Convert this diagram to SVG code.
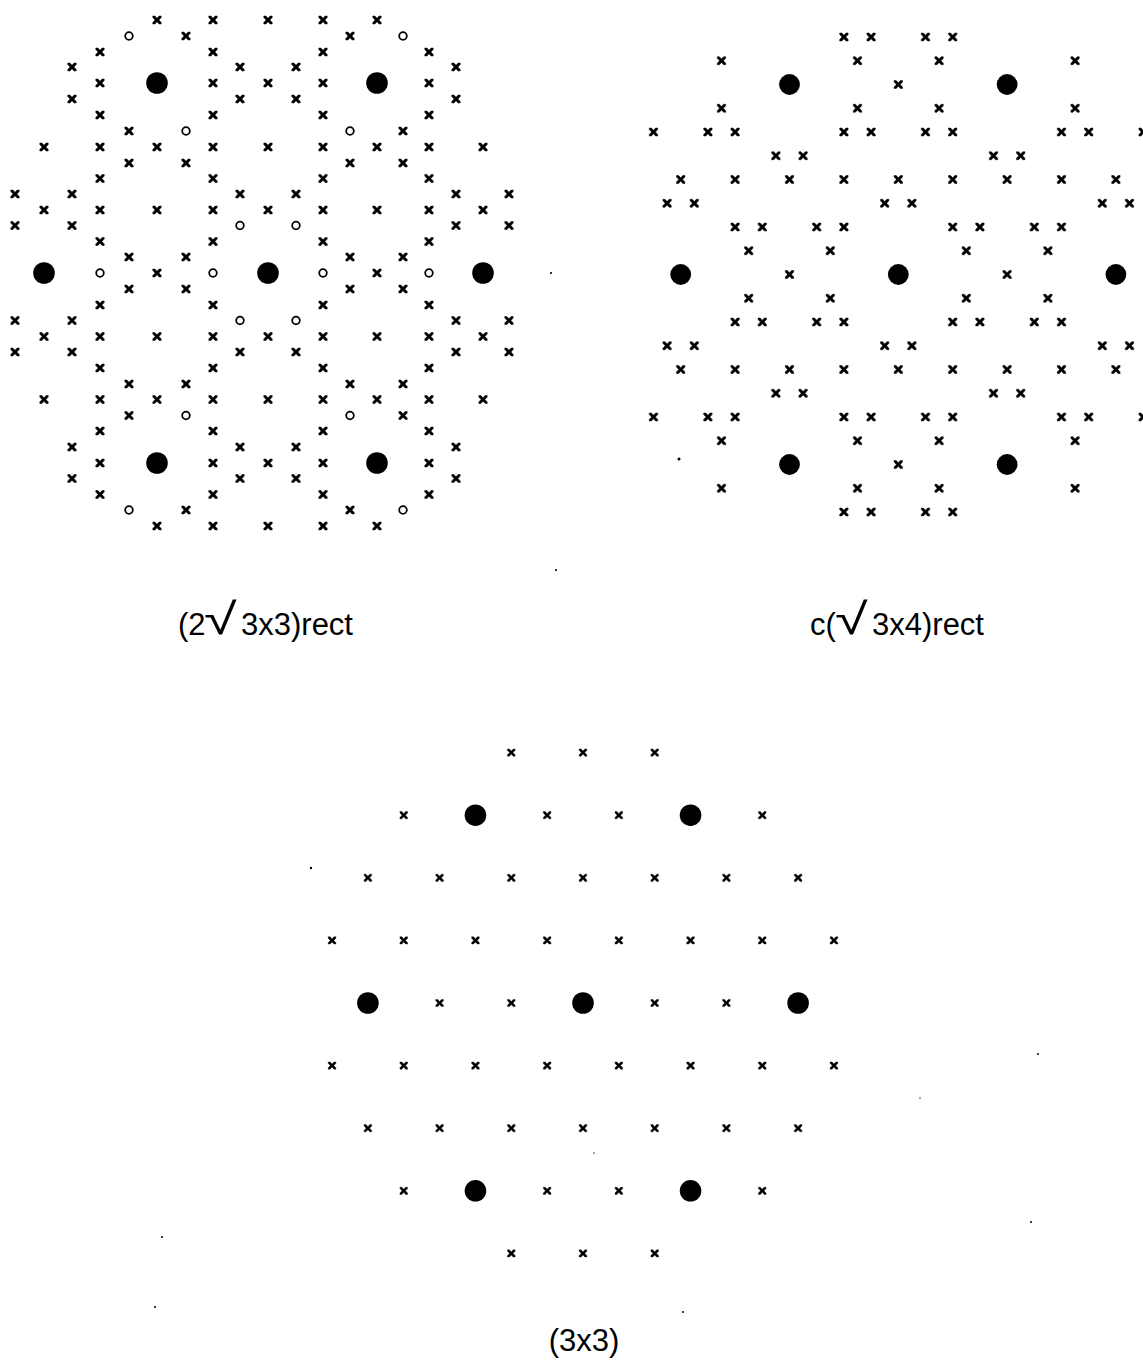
<svg xmlns="http://www.w3.org/2000/svg" xmlns:xlink="http://www.w3.org/1999/xlink" width="1143" height="1365" viewBox="0 0 1143 1365">
<style>
.b{fill:#000}
.o{fill:none;stroke:#000;stroke-width:1.8}
.s{fill:#000}
.lbl{font-family:"Liberation Sans","DejaVu Sans",Arial,sans-serif;font-size:31px;fill:#000}
.rad{font-family:"DejaVu Sans","Liberation Sans",sans-serif;font-size:44px;font-weight:200;fill:#000}
</style>
<defs>
<path id="x" d="M-4.2,-4 H-2.1 L0,-1.7 L2.1,-4 H4.2 V-2.4 L1.9,0 L4.2,2.4 V4 H2.1 L0,1.7 L-2.1,4 H-4.2 V2.4 L-1.9,0 L-4.2,-2.4 Z" fill="#000" stroke="#000" stroke-width="0.5"/>
<path id="xs" d="M-3.8,-3.6 H-1.9 L0,-1.5 L1.9,-3.6 H3.8 V-2.2 L1.7,0 L3.8,2.2 V3.6 H1.9 L0,1.5 L-1.9,3.6 H-3.8 V2.2 L-1.7,0 L-3.8,-2.2 Z" fill="#000" stroke="#000" stroke-width="0.4"/>
</defs>
<rect width="1143" height="1365" fill="#fff"/>

<g id="pattern-2r3x3rect">
<g id="p1-big">
<circle class="b" cx="157" cy="83" r="10.8"/><circle class="b" cx="377" cy="83" r="10.8"/>
<circle class="b" cx="44" cy="273" r="10.8"/><circle class="b" cx="268" cy="273" r="10.8"/><circle class="b" cx="483" cy="273" r="10.8"/>
<circle class="b" cx="157" cy="463" r="10.8"/><circle class="b" cx="377" cy="463" r="10.8"/>
</g>
<g id="p1-open">
<circle class="o" cx="129" cy="36" r="3.8"/><circle class="o" cx="403" cy="36" r="3.8"/>
<circle class="o" cx="186" cy="131" r="3.8"/><circle class="o" cx="350" cy="131" r="3.8"/>
<circle class="o" cx="240" cy="225.5" r="3.8"/><circle class="o" cx="296" cy="225.5" r="3.8"/>
<circle class="o" cx="100" cy="273" r="3.8"/><circle class="o" cx="213" cy="273" r="3.8"/><circle class="o" cx="323" cy="273" r="3.8"/><circle class="o" cx="429" cy="273" r="3.8"/>
<circle class="o" cx="240" cy="320.5" r="3.8"/><circle class="o" cx="296" cy="320.5" r="3.8"/>
<circle class="o" cx="186" cy="415.5" r="3.8"/><circle class="o" cx="350" cy="415.5" r="3.8"/>
<circle class="o" cx="129" cy="510" r="3.8"/><circle class="o" cx="403" cy="510" r="3.8"/>
</g>
<g id="p1-cross">
<use href="#x" x="157" y="20"/><use href="#x" x="213" y="20"/><use href="#x" x="268" y="20"/><use href="#x" x="323" y="20"/><use href="#x" x="377" y="20"/>
<use href="#x" x="186" y="36"/><use href="#x" x="350" y="36"/>
<use href="#x" x="100" y="52"/><use href="#x" x="213" y="52"/><use href="#x" x="323" y="52"/><use href="#x" x="429" y="52"/>
<use href="#x" x="72" y="67"/><use href="#x" x="240" y="67"/><use href="#x" x="296" y="67"/><use href="#x" x="456" y="67"/>
<use href="#x" x="100" y="83"/><use href="#x" x="213" y="83"/><use href="#x" x="268" y="83"/><use href="#x" x="323" y="83"/><use href="#x" x="429" y="83"/>
<use href="#x" x="72" y="99"/><use href="#x" x="240" y="99"/><use href="#x" x="296" y="99"/><use href="#x" x="456" y="99"/>
<use href="#x" x="100" y="115"/><use href="#x" x="213" y="115"/><use href="#x" x="323" y="115"/><use href="#x" x="429" y="115"/>
<use href="#x" x="129" y="131"/><use href="#x" x="403" y="131"/>
<use href="#x" x="44" y="147"/><use href="#x" x="100" y="147"/><use href="#x" x="157" y="147"/><use href="#x" x="213" y="147"/><use href="#x" x="268" y="147"/><use href="#x" x="323" y="147"/><use href="#x" x="377" y="147"/><use href="#x" x="429" y="147"/><use href="#x" x="483" y="147"/>
<use href="#x" x="129" y="163"/><use href="#x" x="186" y="163"/><use href="#x" x="350" y="163"/><use href="#x" x="403" y="163"/>
<use href="#x" x="100" y="178.5"/><use href="#x" x="213" y="178.5"/><use href="#x" x="323" y="178.5"/><use href="#x" x="429" y="178.5"/>
<use href="#x" x="15" y="194"/><use href="#x" x="72" y="194"/><use href="#x" x="240" y="194"/><use href="#x" x="296" y="194"/><use href="#x" x="456" y="194"/><use href="#x" x="509" y="194"/>
<use href="#x" x="44" y="210"/><use href="#x" x="100" y="210"/><use href="#x" x="157" y="210"/><use href="#x" x="213" y="210"/><use href="#x" x="268" y="210"/><use href="#x" x="323" y="210"/><use href="#x" x="377" y="210"/><use href="#x" x="429" y="210"/><use href="#x" x="483" y="210"/>
<use href="#x" x="15" y="225.5"/><use href="#x" x="72" y="225.5"/><use href="#x" x="456" y="225.5"/><use href="#x" x="509" y="225.5"/>
<use href="#x" x="100" y="241.5"/><use href="#x" x="213" y="241.5"/><use href="#x" x="323" y="241.5"/><use href="#x" x="429" y="241.5"/>
<use href="#x" x="129" y="257"/><use href="#x" x="186" y="257"/><use href="#x" x="350" y="257"/><use href="#x" x="403" y="257"/>
<use href="#x" x="157" y="273"/><use href="#x" x="377" y="273"/>
<use href="#x" x="129" y="289"/><use href="#x" x="186" y="289"/><use href="#x" x="350" y="289"/><use href="#x" x="403" y="289"/>
<use href="#x" x="100" y="305"/><use href="#x" x="213" y="305"/><use href="#x" x="323" y="305"/><use href="#x" x="429" y="305"/>
<use href="#x" x="15" y="320.5"/><use href="#x" x="72" y="320.5"/><use href="#x" x="456" y="320.5"/><use href="#x" x="509" y="320.5"/>
<use href="#x" x="44" y="336.5"/><use href="#x" x="100" y="336.5"/><use href="#x" x="157" y="336.5"/><use href="#x" x="213" y="336.5"/><use href="#x" x="268" y="336.5"/><use href="#x" x="323" y="336.5"/><use href="#x" x="377" y="336.5"/><use href="#x" x="429" y="336.5"/><use href="#x" x="483" y="336.5"/>
<use href="#x" x="15" y="352"/><use href="#x" x="72" y="352"/><use href="#x" x="240" y="352"/><use href="#x" x="296" y="352"/><use href="#x" x="456" y="352"/><use href="#x" x="509" y="352"/>
<use href="#x" x="100" y="368"/><use href="#x" x="213" y="368"/><use href="#x" x="323" y="368"/><use href="#x" x="429" y="368"/>
<use href="#x" x="129" y="384"/><use href="#x" x="186" y="384"/><use href="#x" x="350" y="384"/><use href="#x" x="403" y="384"/>
<use href="#x" x="44" y="399.5"/><use href="#x" x="100" y="399.5"/><use href="#x" x="157" y="399.5"/><use href="#x" x="213" y="399.5"/><use href="#x" x="268" y="399.5"/><use href="#x" x="323" y="399.5"/><use href="#x" x="377" y="399.5"/><use href="#x" x="429" y="399.5"/><use href="#x" x="483" y="399.5"/>
<use href="#x" x="129" y="415.5"/><use href="#x" x="403" y="415.5"/>
<use href="#x" x="100" y="431"/><use href="#x" x="213" y="431"/><use href="#x" x="323" y="431"/><use href="#x" x="429" y="431"/>
<use href="#x" x="72" y="447"/><use href="#x" x="240" y="447"/><use href="#x" x="296" y="447"/><use href="#x" x="456" y="447"/>
<use href="#x" x="100" y="463"/><use href="#x" x="213" y="463"/><use href="#x" x="268" y="463"/><use href="#x" x="323" y="463"/><use href="#x" x="429" y="463"/>
<use href="#x" x="72" y="478.5"/><use href="#x" x="240" y="478.5"/><use href="#x" x="296" y="478.5"/><use href="#x" x="456" y="478.5"/>
<use href="#x" x="100" y="494.5"/><use href="#x" x="213" y="494.5"/><use href="#x" x="323" y="494.5"/><use href="#x" x="429" y="494.5"/>
<use href="#x" x="186" y="510"/><use href="#x" x="350" y="510"/>
<use href="#x" x="157" y="526"/><use href="#x" x="213" y="526"/><use href="#x" x="268" y="526"/><use href="#x" x="323" y="526"/><use href="#x" x="377" y="526"/>
</g>
<text class="lbl" x="178" y="635">(2</text>
<text class="rad" transform="translate(204,634) scale(1.35,1)">√</text>
<text class="lbl" x="241" y="635">3x3)rect</text>
</g>

<g id="pattern-cr3x4rect">
<g id="p2-big">
<circle class="b" cx="789.5" cy="84.5" r="10.4"/><circle class="b" cx="1007.1" cy="84.5" r="10.4"/>
<circle class="b" cx="680.7" cy="274.5" r="10.4"/><circle class="b" cx="898.3" cy="274.5" r="10.4"/><circle class="b" cx="1115.9" cy="274.5" r="10.4"/>
<circle class="b" cx="789.5" cy="464.5" r="10.4"/><circle class="b" cx="1007.1" cy="464.5" r="10.4"/>
</g>
<g id="p2-cross">
<use href="#x" x="843.9" y="37"/><use href="#x" x="871.1" y="37"/><use href="#x" x="925.5" y="37"/><use href="#x" x="952.7" y="37"/>
<use href="#x" x="721.5" y="60.75"/><use href="#x" x="857.5" y="60.75"/><use href="#x" x="939.1" y="60.75"/><use href="#x" x="1075.1" y="60.75"/>
<use href="#x" x="898.3" y="84.5"/>
<use href="#x" x="721.5" y="108.25"/><use href="#x" x="857.5" y="108.25"/><use href="#x" x="939.1" y="108.25"/><use href="#x" x="1075.1" y="108.25"/>
<use href="#x" x="653.5" y="132"/><use href="#x" x="707.9" y="132"/><use href="#x" x="735.1" y="132"/><use href="#x" x="843.9" y="132"/><use href="#x" x="871.1" y="132"/><use href="#x" x="925.5" y="132"/><use href="#x" x="952.7" y="132"/><use href="#x" x="1061.5" y="132"/><use href="#x" x="1088.7" y="132"/><use href="#x" x="1143.1" y="132"/>
<use href="#x" x="775.9" y="155.75"/><use href="#x" x="803.1" y="155.75"/><use href="#x" x="993.5" y="155.75"/><use href="#x" x="1020.7" y="155.75"/>
<use href="#x" x="680.7" y="179.5"/><use href="#x" x="735.1" y="179.5"/><use href="#x" x="789.5" y="179.5"/><use href="#x" x="843.9" y="179.5"/><use href="#x" x="898.3" y="179.5"/><use href="#x" x="952.7" y="179.5"/><use href="#x" x="1007.1" y="179.5"/><use href="#x" x="1061.5" y="179.5"/><use href="#x" x="1115.9" y="179.5"/>
<use href="#x" x="667.1" y="203.25"/><use href="#x" x="694.3" y="203.25"/><use href="#x" x="884.7" y="203.25"/><use href="#x" x="911.9" y="203.25"/><use href="#x" x="1102.3" y="203.25"/><use href="#x" x="1129.5" y="203.25"/>
<use href="#x" x="735.1" y="227"/><use href="#x" x="762.3" y="227"/><use href="#x" x="816.7" y="227"/><use href="#x" x="843.9" y="227"/><use href="#x" x="952.7" y="227"/><use href="#x" x="979.9" y="227"/><use href="#x" x="1034.3" y="227"/><use href="#x" x="1061.5" y="227"/>
<use href="#x" x="748.7" y="250.75"/><use href="#x" x="830.3" y="250.75"/><use href="#x" x="966.3" y="250.75"/><use href="#x" x="1047.9" y="250.75"/>
<use href="#x" x="789.5" y="274.5"/><use href="#x" x="1007.1" y="274.5"/>
<use href="#x" x="748.7" y="298.25"/><use href="#x" x="830.3" y="298.25"/><use href="#x" x="966.3" y="298.25"/><use href="#x" x="1047.9" y="298.25"/>
<use href="#x" x="735.1" y="322"/><use href="#x" x="762.3" y="322"/><use href="#x" x="816.7" y="322"/><use href="#x" x="843.9" y="322"/><use href="#x" x="952.7" y="322"/><use href="#x" x="979.9" y="322"/><use href="#x" x="1034.3" y="322"/><use href="#x" x="1061.5" y="322"/>
<use href="#x" x="667.1" y="345.75"/><use href="#x" x="694.3" y="345.75"/><use href="#x" x="884.7" y="345.75"/><use href="#x" x="911.9" y="345.75"/><use href="#x" x="1102.3" y="345.75"/><use href="#x" x="1129.5" y="345.75"/>
<use href="#x" x="680.7" y="369.5"/><use href="#x" x="735.1" y="369.5"/><use href="#x" x="789.5" y="369.5"/><use href="#x" x="843.9" y="369.5"/><use href="#x" x="898.3" y="369.5"/><use href="#x" x="952.7" y="369.5"/><use href="#x" x="1007.1" y="369.5"/><use href="#x" x="1061.5" y="369.5"/><use href="#x" x="1115.9" y="369.5"/>
<use href="#x" x="775.9" y="393.25"/><use href="#x" x="803.1" y="393.25"/><use href="#x" x="993.5" y="393.25"/><use href="#x" x="1020.7" y="393.25"/>
<use href="#x" x="653.5" y="417"/><use href="#x" x="707.9" y="417"/><use href="#x" x="735.1" y="417"/><use href="#x" x="843.9" y="417"/><use href="#x" x="871.1" y="417"/><use href="#x" x="925.5" y="417"/><use href="#x" x="952.7" y="417"/><use href="#x" x="1061.5" y="417"/><use href="#x" x="1088.7" y="417"/><use href="#x" x="1143.1" y="417"/>
<use href="#x" x="721.5" y="440.75"/><use href="#x" x="857.5" y="440.75"/><use href="#x" x="939.1" y="440.75"/><use href="#x" x="1075.1" y="440.75"/>
<use href="#x" x="898.3" y="464.5"/>
<use href="#x" x="721.5" y="488.25"/><use href="#x" x="857.5" y="488.25"/><use href="#x" x="939.1" y="488.25"/><use href="#x" x="1075.1" y="488.25"/>
<use href="#x" x="843.9" y="512"/><use href="#x" x="871.1" y="512"/><use href="#x" x="925.5" y="512"/><use href="#x" x="952.7" y="512"/>
</g>
<text class="lbl" x="810" y="635">c(</text>
<text class="rad" transform="translate(835,634) scale(1.35,1)">√</text>
<text class="lbl" x="872" y="635">3x4)rect</text>
</g>

<g id="pattern-3x3">
<g id="p3-big">
<circle class="b" cx="475.45" cy="815.2" r="10.8"/><circle class="b" cx="690.55" cy="815.2" r="10.8"/>
<circle class="b" cx="367.9" cy="1003" r="10.8"/><circle class="b" cx="583" cy="1003" r="10.8"/><circle class="b" cx="798.1" cy="1003" r="10.8"/>
<circle class="b" cx="475.45" cy="1190.8" r="10.8"/><circle class="b" cx="690.55" cy="1190.8" r="10.8"/>
</g>
<g id="p3-cross">
<use href="#xs" x="511.3" y="752.6"/><use href="#xs" x="583" y="752.6"/><use href="#xs" x="654.7" y="752.6"/>
<use href="#xs" x="403.75" y="815.2"/><use href="#xs" x="547.15" y="815.2"/><use href="#xs" x="618.85" y="815.2"/><use href="#xs" x="762.25" y="815.2"/>
<use href="#xs" x="367.9" y="877.8"/><use href="#xs" x="439.6" y="877.8"/><use href="#xs" x="511.3" y="877.8"/><use href="#xs" x="583" y="877.8"/><use href="#xs" x="654.7" y="877.8"/><use href="#xs" x="726.4" y="877.8"/><use href="#xs" x="798.1" y="877.8"/>
<use href="#xs" x="332.05" y="940.4"/><use href="#xs" x="403.75" y="940.4"/><use href="#xs" x="475.45" y="940.4"/><use href="#xs" x="547.15" y="940.4"/><use href="#xs" x="618.85" y="940.4"/><use href="#xs" x="690.55" y="940.4"/><use href="#xs" x="762.25" y="940.4"/><use href="#xs" x="833.95" y="940.4"/>
<use href="#xs" x="439.6" y="1003"/><use href="#xs" x="511.3" y="1003"/><use href="#xs" x="654.7" y="1003"/><use href="#xs" x="726.4" y="1003"/>
<use href="#xs" x="332.05" y="1065.6"/><use href="#xs" x="403.75" y="1065.6"/><use href="#xs" x="475.45" y="1065.6"/><use href="#xs" x="547.15" y="1065.6"/><use href="#xs" x="618.85" y="1065.6"/><use href="#xs" x="690.55" y="1065.6"/><use href="#xs" x="762.25" y="1065.6"/><use href="#xs" x="833.95" y="1065.6"/>
<use href="#xs" x="367.9" y="1128.2"/><use href="#xs" x="439.6" y="1128.2"/><use href="#xs" x="511.3" y="1128.2"/><use href="#xs" x="583" y="1128.2"/><use href="#xs" x="654.7" y="1128.2"/><use href="#xs" x="726.4" y="1128.2"/><use href="#xs" x="798.1" y="1128.2"/>
<use href="#xs" x="403.75" y="1190.8"/><use href="#xs" x="547.15" y="1190.8"/><use href="#xs" x="618.85" y="1190.8"/><use href="#xs" x="762.25" y="1190.8"/>
<use href="#xs" x="511.3" y="1253.4"/><use href="#xs" x="583" y="1253.4"/><use href="#xs" x="654.7" y="1253.4"/>
</g>
<text class="lbl" x="584" y="1351" text-anchor="middle">(3x3)</text>
</g>

<g id="specks">
<circle class="s" cx="551" cy="273" r="1.1"/><circle class="s" cx="556" cy="570" r="1.1"/><circle class="s" cx="679" cy="459" r="1.5"/>
<circle class="s" cx="311" cy="868" r="1.2"/><circle class="s" cx="1038" cy="1054" r="1"/><circle class="s" cx="1031" cy="1222" r="1"/>
<circle class="s" cx="162" cy="1237" r="1"/><circle class="s" cx="155" cy="1307" r="1"/><circle class="s" cx="683" cy="1312" r="1"/>
<circle class="s" cx="594" cy="1153" r="0.7"/><circle class="s" cx="920" cy="1098" r="0.7"/>
</g>
</svg>
